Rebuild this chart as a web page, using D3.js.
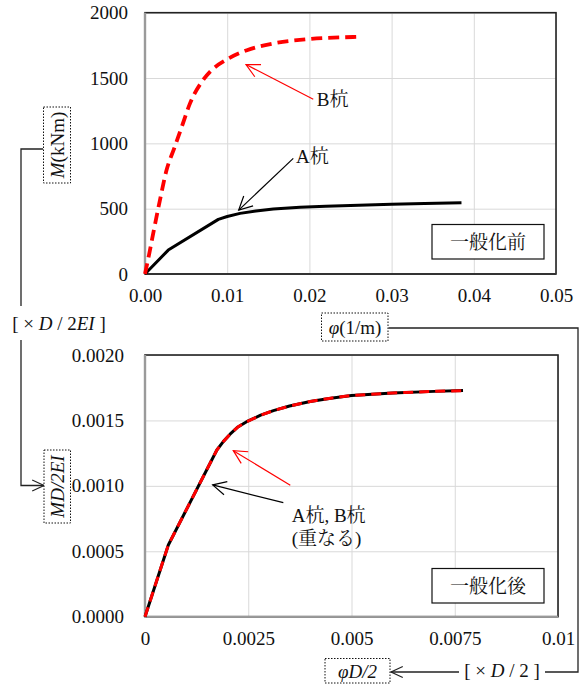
<!DOCTYPE html>
<html><head><meta charset="utf-8">
<script src="https://cdn.jsdelivr.net/npm/d3@7"></script>
</head><body style="margin:0;background:#fff"><svg id="c" width="582" height="686"></svg>
<script>
// ---- data: before generalization (top) ----
const phiA = [0, 0.00283, 0.00892, 0.0100, 0.01156, 0.0135, 0.01561, 0.01886, 0.022, 0.026, 0.030, 0.034, 0.0385];
const mA   = [0, 183, 418, 440, 464, 483, 497, 510, 518, 526, 533, 539, 545];
const phiB = [0, 0.0005, 0.0010, 0.0018, 0.0026, 0.0036, 0.0046, 0.0055, 0.0069, 0.0081, 0.0099, 0.0124, 0.0156, 0.0197, 0.0253, 0.0262];
const mB   = [0, 150, 311, 560, 790, 970, 1150, 1310, 1470, 1560, 1640, 1713, 1764, 1797, 1814, 1816];
// ---- data: after generalization (bottom) ----
const genPhi = [0, 0.000565, 0.00174, 0.0019, 0.00206, 0.00225, 0.00246, 0.0028, 0.00311, 0.0035, 0.004, 0.0045, 0.005, 0.006, 0.007, 0.0077];
const genA   = [0, 0.000548, 0.001274, 0.00134, 0.001395, 0.00145, 0.00149, 0.00154, 0.001575, 0.00161, 0.001645, 0.00167, 0.00169, 0.00171, 0.001722, 0.001728];
const genB   = [0, 0.000548, 0.001274, 0.00134, 0.001395, 0.00145, 0.00149, 0.00154, 0.001575, 0.00161, 0.001645, 0.00167, 0.00169, 0.00171, 0.001722, 0.001728];
// ---- ticks ----
const topXTicks  = [0, 0.01, 0.02, 0.03, 0.04, 0.05];
const topXLabels = ["0.00", "0.01", "0.02", "0.03", "0.04", "0.05"];
const topYTicks  = [0, 500, 1000, 1500, 2000];
const topYLabels = ["0", "500", "1000", "1500", "2000"];
const botXTicks  = [0, 0.0025, 0.005, 0.0075, 0.01];
const botXLabels = ["0", "0.0025", "0.005", "0.0075", "0.01"];
const botYTicks  = [0, 0.0005, 0.001, 0.0015, 0.002];
const botYLabels = ["0.0000", "0.0005", "0.0010", "0.0015", "0.0020"];

const FONT = '"Liberation Serif", "Noto Serif CJK JP", serif';
const svg = d3.select("#c");

function panel(cfg) {
  const x = d3.scaleLinear().domain([cfg.xTicks[0], cfg.xTicks[cfg.xTicks.length-1]]).range([cfg.l, cfg.r]);
  const y = d3.scaleLinear().domain([cfg.yTicks[0], cfg.yTicks[cfg.yTicks.length-1]]).range([cfg.b, cfg.t]);
  const g = svg.append("g");
  g.append("g").attr("transform", `translate(0,${cfg.b})`)
    .call(d3.axisBottom(x).tickValues(cfg.xTicks).tickSize(-(cfg.b-cfg.t)).tickFormat(""))
    .call(s => { s.select(".domain").remove(); s.selectAll("line").attr("stroke", "#d9d9d9"); });
  g.append("g").attr("transform", `translate(${cfg.l},0)`)
    .call(d3.axisLeft(y).tickValues(cfg.yTicks).tickSize(-(cfg.r-cfg.l)).tickFormat(""))
    .call(s => { s.select(".domain").remove(); s.selectAll("line").attr("stroke", "#d9d9d9"); });
  g.append("rect").attr("x", cfg.l).attr("y", cfg.t).attr("width", cfg.r-cfg.l).attr("height", cfg.b-cfg.t)
    .attr("fill", "none").attr("stroke", "#222").attr("stroke-width", 1.6);
  g.append("line").attr("x1", cfg.l).attr("x2", cfg.l).attr("y1", cfg.t).attr("y2", cfg.b)
    .attr("stroke", "#9a9a9a").attr("stroke-width", 2.4);
  g.append("line").attr("x1", cfg.l).attr("x2", cfg.r).attr("y1", cfg.b).attr("y2", cfg.b)
    .attr("stroke", cfg.bottomGray ? "#9a9a9a" : "#333").attr("stroke-width", 2);
  const xa = g.append("g").attr("transform", `translate(0,${cfg.b})`)
    .call(d3.axisBottom(x).tickValues(cfg.xTicks).tickSize(0).tickPadding(cfg.xPad).tickFormat((d,i) => cfg.xLabels[i]));
  xa.select(".domain").remove();
  const ya = g.append("g").attr("transform", `translate(${cfg.l},0)`)
    .call(d3.axisLeft(y).tickValues(cfg.yTicks).tickSize(0).tickPadding(cfg.yPad).tickFormat((d,i) => cfg.yLabels[i]));
  ya.select(".domain").remove();
  return {x, y, g};
}

function arrowHead(g, tip, tail, color, len = 15, ang = 27) {
  const a = Math.atan2(tail[1]-tip[1], tail[0]-tip[0]);
  const r = ang * Math.PI / 180;
  const p1 = [tip[0] + len*Math.cos(a+r), tip[1] + len*Math.sin(a+r)];
  const p2 = [tip[0] + len*Math.cos(a-r), tip[1] + len*Math.sin(a-r)];
  g.append("path").attr("d", `M${p1}L${tip}L${p2}`).attr("fill", "none").attr("stroke", color).attr("stroke-width", 1.2);
}
function arrow(g, tip, tail, color) {
  g.append("line").attr("x1", tail[0]).attr("y1", tail[1]).attr("x2", tip[0]).attr("y2", tip[1])
    .attr("stroke", color).attr("stroke-width", 1.2);
  arrowHead(g, tip, tail, color);
}

// ---------- top panel ----------
const P1 = panel({l:145, r:556, t:12.7, b:274, xTicks:topXTicks, xLabels:topXLabels, yTicks:topYTicks, yLabels:topYLabels, xPad:15, yPad:17, bottomGray:false});
const line1 = d3.line().x(d => P1.x(d[0])).y(d => P1.y(d[1]));
P1.g.append("path").attr("d", line1(d3.zip(phiA, mA))).attr("fill", "none").attr("stroke", "#000").attr("stroke-width", 3).attr("stroke-linejoin", "round");
P1.g.append("path").attr("d", line1.curve(d3.curveMonotoneX)(d3.zip(phiB, mB))).attr("fill", "none").attr("stroke", "#ff0000").attr("stroke-width", 3.8).attr("stroke-dasharray", "11,6");
arrow(P1.g, [P1.x(0.01229), P1.y(1603)], [P1.x(0.02047), P1.y(1338)], "#ff0000");
P1.g.append("text").attr("x", P1.x(0.0209)).attr("y", P1.y(1338)).attr("dy", "0.35em").text("B杭");
arrow(P1.g, [P1.x(0.0114), P1.y(489)], [P1.x(0.01804), P1.y(885)], "#000");
P1.g.append("text").attr("x", P1.x(0.01837)).attr("y", P1.y(904)).attr("dy", "0.35em").text("A杭");
P1.g.append("rect").attr("x", 432).attr("y", 224.5).attr("width", 112).attr("height", 34.5).attr("fill", "#fff").attr("stroke", "#111").attr("stroke-width", 1.2);
P1.g.append("text").attr("x", 488).attr("y", 242).attr("dy", "0.36em").attr("text-anchor", "middle").text("一般化前");

// ---------- bottom panel ----------
const P2 = panel({l:145, r:558, t:355, b:616.7, xTicks:botXTicks, xLabels:botXLabels, yTicks:botYTicks, yLabels:botYLabels, xPad:15, yPad:21, bottomGray:true});
const line2 = d3.line().x(d => P2.x(d[0])).y(d => P2.y(d[1]));
P2.g.append("path").attr("d", line2(d3.zip(genPhi, genA))).attr("fill", "none").attr("stroke", "#000").attr("stroke-width", 3).attr("stroke-linejoin", "round");
P2.g.append("path").attr("d", line2(d3.zip(genPhi, genB))).attr("fill", "none").attr("stroke", "#ff0000").attr("stroke-width", 3).attr("stroke-dasharray", "10,6");
arrow(P2.g, [P2.x(0.002138), P2.y(0.001269)], [P2.x(0.003518), P2.y(0.001005)], "#ff0000");
arrow(P2.g, [P2.x(0.001639), P2.y(0.001007)], [P2.x(0.003349), P2.y(0.000872)], "#000");
P2.g.append("text").attr("x", P2.x(0.003552)).attr("y", P2.y(0.000778)).attr("dy", "0.35em").text("A杭, B杭");
P2.g.append("text").attr("x", P2.x(0.003552)).attr("y", P2.y(0.000602)).attr("dy", "0.35em").text("(重なる)");
P2.g.append("rect").attr("x", 432).attr("y", 568.5).attr("width", 112).attr("height", 34.5).attr("fill", "#fff").attr("stroke", "#111").attr("stroke-width", 1.2);
P2.g.append("text").attr("x", 488).attr("y", 586).attr("dy", "0.36em").attr("text-anchor", "middle").text("一般化後");

// ---------- axis title boxes & connectors ----------
const A = svg.append("g");
function dotBox(x, y, w, h) {
  A.append("rect").attr("x", x).attr("y", y).attr("width", w).attr("height", h)
    .attr("fill", "#fff").attr("stroke", "#111").attr("stroke-width", 1).attr("stroke-dasharray", "1.5,1.5");
}
const conn = d => A.append("path").attr("d", d).attr("fill", "none").attr("stroke", "#222").attr("stroke-width", 1.3);

conn("M43,149H21V306");
conn("M21,340V485.5H44");
arrowHead(A, [44, 485.5], [20, 485.5], "#222", 13, 25);
const t1 = A.append("text").attr("x", 59).attr("y", 323).attr("dy", "0.35em").attr("text-anchor", "middle");
t1.append("tspan").text("[ × ");
t1.append("tspan").style("font-style", "italic").text("D");
t1.append("tspan").text(" / 2");
t1.append("tspan").style("font-style", "italic").text("EI");
t1.append("tspan").text(" ]");

dotBox(43.5, 107, 27, 76);
const tm = A.append("text").attr("transform", "translate(57,145) rotate(-90)").attr("dy", "0.35em").attr("text-anchor", "middle");
tm.append("tspan").style("font-style", "italic").text("M");
tm.append("tspan").text("(kNm)");

dotBox(44, 450, 26.5, 73);
A.append("text").attr("transform", "translate(57.5,486.5) rotate(-90)").attr("dy", "0.35em").attr("text-anchor", "middle")
  .style("font-style", "italic").text("MD/2EI");

conn("M388.5,328H578V672H545");
conn("M459,672H391");
arrowHead(A, [391, 672], [420, 672], "#222", 13, 25);
const t2 = A.append("text").attr("x", 502).attr("y", 670).attr("dy", "0.35em").attr("text-anchor", "middle");
t2.append("tspan").text("[ × ");
t2.append("tspan").style("font-style", "italic").text("D");
t2.append("tspan").text(" / 2 ]");

dotBox(321.5, 313, 66.5, 28);
const tp = A.append("text").attr("x", 355).attr("y", 327).attr("dy", "0.35em").attr("text-anchor", "middle");
tp.append("tspan").style("font-style", "italic").text("φ");
tp.append("tspan").text("(1/m)");

dotBox(325, 658.5, 65, 24.5);
const tq = A.append("text").attr("x", 357.5).attr("y", 671).attr("dy", "0.35em").attr("text-anchor", "middle").style("font-style", "italic");
tq.append("tspan").text("φ");
tq.append("tspan").text("D/2");

// apply fonts inline on every text
svg.selectAll("text").style("font-family", FONT).style("font-size", "19px").attr("fill", "#111");
</script>
</body></html>
